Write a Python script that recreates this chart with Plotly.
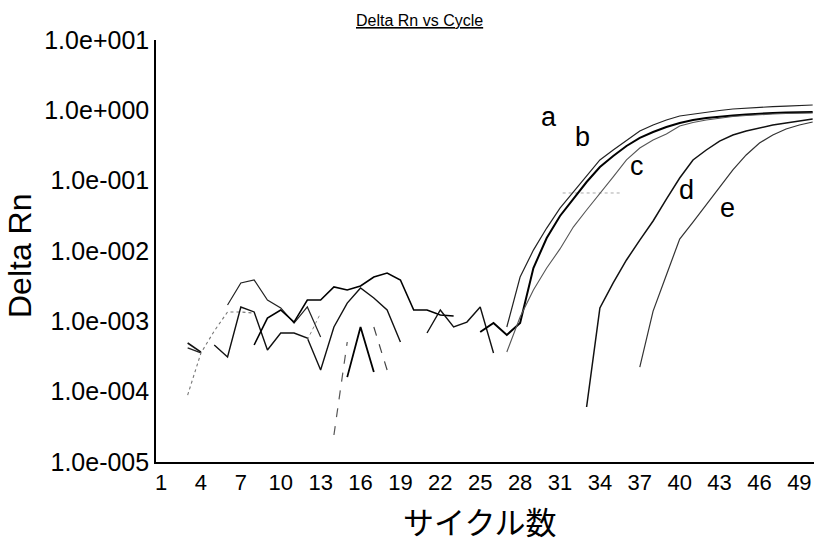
import math
import plotly.graph_objects as go

# Amplification curves (Delta Rn per cycle)
cyc_a = list(range(27, 51))
rn_a = [8.30e-4, 4.27e-3, 1.03e-2, 2.12e-2, 4.08e-2, 6.90e-2, 0.120, 0.197, 0.273, 0.378,
        0.508, 0.618, 0.729, 0.830, 0.887, 0.947, 0.995, 1.045, 1.08, 1.11, 1.13, 1.15, 1.17, 1.19]

cyc_b = list(range(25, 51))
rn_b = [7.05e-4, 9.46e-4, 6.40e-4, 9.46e-4, 5.73e-3, 1.53e-2, 3.15e-2, 5.48e-2, 9.57e-2, 0.156,
        0.224, 0.311, 0.405, 0.492, 0.579, 0.661, 0.729, 0.778, 0.817, 0.844, 0.873, 0.902,
        0.916, 0.931, 0.947, 0.947]

cyc_c = list(range(27, 51))
rn_c = [3.66e-4, 1.15e-3, 2.79e-3, 5.73e-3, 1.07e-2, 2.19e-2, 3.83e-2, 6.46e-2, 0.113, 0.197,
        0.291, 0.378, 0.460, 0.598, 0.671, 0.729, 0.778, 0.817, 0.844, 0.873, 0.887, 0.902,
        0.916, 0.916]

cyc_d = list(range(33, 51))
rn_d = [6.05e-5, 1.55e-3, 3.51e-3, 7.45e-3, 1.43e-2, 2.67e-2, 5.48e-2, 0.109, 0.197, 0.273,
        0.366, 0.446, 0.508, 0.561, 0.618, 0.661, 0.705, 0.753]

cyc_e = list(range(37, 51))
rn_e = [2.24e-4, 1.40e-3, 4.56e-3, 1.48e-2, 2.58e-2, 4.51e-2, 8.13e-2, 0.142, 0.232, 0.343,
        0.446, 0.543, 0.618, 0.682]

# Baseline noise: runs of positive Delta Rn between negative readings
noise = [
    # (cycles, values, colour, width, dash)
    ([3, 4], [4.92e-4, 3.66e-4], "#111111", 1.6, "solid"),
    ([3, 4], [4.18e-4, 3.55e-4], "#222222", 1.3, "solid"),
    ([3, 4, 5, 6, 7, 8], [8.95e-5, 3.55e-4, 7.28e-4, 1.36e-3, 1.36e-3, 1.31e-3], "#777777", 1.1, "dot"),
    ([5, 6, 7, 8, 9, 10, 11, 12, 13, 14, 15, 16, 17, 18, 19],
     [4.6e-4, 3.11e-4, 1.60e-3, 1.36e-3, 3.91e-4, 6.82e-4, 6.82e-4, 5.79e-4, 2.03e-4, 8.30e-4,
      1.82e-3, 2.98e-3, 2.15e-3, 1.45e-3, 5.08e-4], "#111111", 1.4, "solid"),
    ([6, 7, 8, 9, 10, 11, 12, 13],
     [1.71e-3, 3.51e-3, 3.87e-3, 2.01e-3, 1.55e-3, 9.46e-4, 1.60e-3, 5.98e-4], "#222222", 1.2, "solid"),
    ([8, 9, 10, 11, 12, 13, 14, 15, 16, 17, 18, 19, 20, 21, 22, 23],
     [4.61e-4, 1.11e-3, 1.45e-3, 9.77e-4, 2.01e-3, 2.01e-3, 3.08e-3, 2.79e-3, 3.18e-3, 4.27e-3,
      4.86e-3, 3.87e-3, 1.45e-3, 1.45e-3, 1.23e-3, 1.19e-3], "#000000", 1.6, "solid"),
    ([12, 13], [5.43e-4, 1.31e-3], "#888888", 1.0, "dot"),
    ([14, 15], [2.42e-5, 5.08e-4], "#555555", 1.2, "dash"),
    ([15, 16, 17], [1.61e-4, 8.30e-4, 1.90e-4], "#000000", 1.8, "solid"),
    ([17, 18], [8.30e-4, 2.03e-4], "#444444", 1.2, "dash"),
    ([21, 22, 23, 24, 25, 26], [6.82e-4, 1.45e-3, 8.30e-4, 9.77e-4, 1.60e-3, 3.55e-4], "#111111", 1.4, "solid"),
]

# Short threshold marker
thr_cyc = [31.2, 35.65]
thr_val = [6.68e-2, 6.68e-2]

curve_labels = ["a", "b", "c", "d", "e"]
label_cyc = [30.16, 32.72, 36.78, 40.54, 43.63]
label_val = [0.80, 0.42, 0.162, 0.0736, 0.0408]

y_ticks = [1e1, 1e0, 1e-1, 1e-2, 1e-3, 1e-4, 1e-5]
y_tick_text = ["1.0e+001", "1.0e+000", "1.0e-001", "1.0e-002", "1.0e-003", "1.0e-004", "1.0e-005"]
x_ticks = list(range(1, 50, 3))

fig = go.Figure()

for cx, vals, col, w, dash in noise:
    fig.add_trace(go.Scatter(x=cx, y=vals, mode="lines",
                             line=dict(color=col, width=w, dash=dash), hoverinfo="skip"))

fig.add_trace(go.Scatter(x=thr_cyc, y=thr_val, mode="lines",
                         line=dict(color="#aaaaaa", width=1, dash="dot"), hoverinfo="skip"))

curves = [
    (cyc_a, rn_a, "#222222", 1.2),
    (cyc_b, rn_b, "#000000", 2.0),
    (cyc_c, rn_c, "#555555", 1.1),
    (cyc_d, rn_d, "#111111", 1.5),
    (cyc_e, rn_e, "#333333", 1.2),
]
for cx, vals, col, w in curves:
    fig.add_trace(go.Scatter(x=cx, y=vals, mode="lines",
                             line=dict(color=col, width=w), hoverinfo="skip"))

for name, cx, v in zip(curve_labels, label_cyc, label_val):
    fig.add_annotation(x=cx, y=math.log10(v), xref="x", yref="y", text=name,
                       showarrow=False, xanchor="center", yanchor="middle",
                       font=dict(family="Liberation Sans", size=27, color="#000"))

fig.add_annotation(x=0.3997, y=1.047, xref="paper", yref="paper",
                   text="<u>Delta Rn vs Cycle</u>", showarrow=False,
                   xanchor="center", yanchor="middle",
                   font=dict(family="Liberation Sans", size=16, color="#000"))
fig.add_annotation(x=-0.2067, y=0.4905, xref="paper", yref="paper", text="Delta Rn",
                   textangle=-90, showarrow=False, xanchor="center", yanchor="middle",
                   font=dict(family="Liberation Sans", size=32, color="#000"))
fig.add_annotation(x=0.491, y=-0.1398, xref="paper", yref="paper", text="サイクル数",
                   showarrow=False, xanchor="center", yanchor="middle",
                   font=dict(family="Noto Sans CJK JP", size=31, color="#000"))

fig.update_layout(
    width=814, height=544,
    margin=dict(l=156, r=0, t=40, b=82),
    paper_bgcolor="white", plot_bgcolor="white",
    showlegend=False,
    xaxis=dict(range=[0.62, 50.1], tickvals=x_ticks, ticks="", showgrid=False, zeroline=False,
               showline=True, linecolor="#000", linewidth=1.6,
               tickfont=dict(family="Liberation Sans", size=22, color="#000")),
    yaxis=dict(type="log", range=[-5, 1], tickvals=y_ticks, ticktext=y_tick_text, ticks="",
               showgrid=False, zeroline=False, showline=True, linecolor="#000", linewidth=1.6,
               tickfont=dict(family="Liberation Sans", size=25, color="#000")),
)

fig.write_html("out.html")
